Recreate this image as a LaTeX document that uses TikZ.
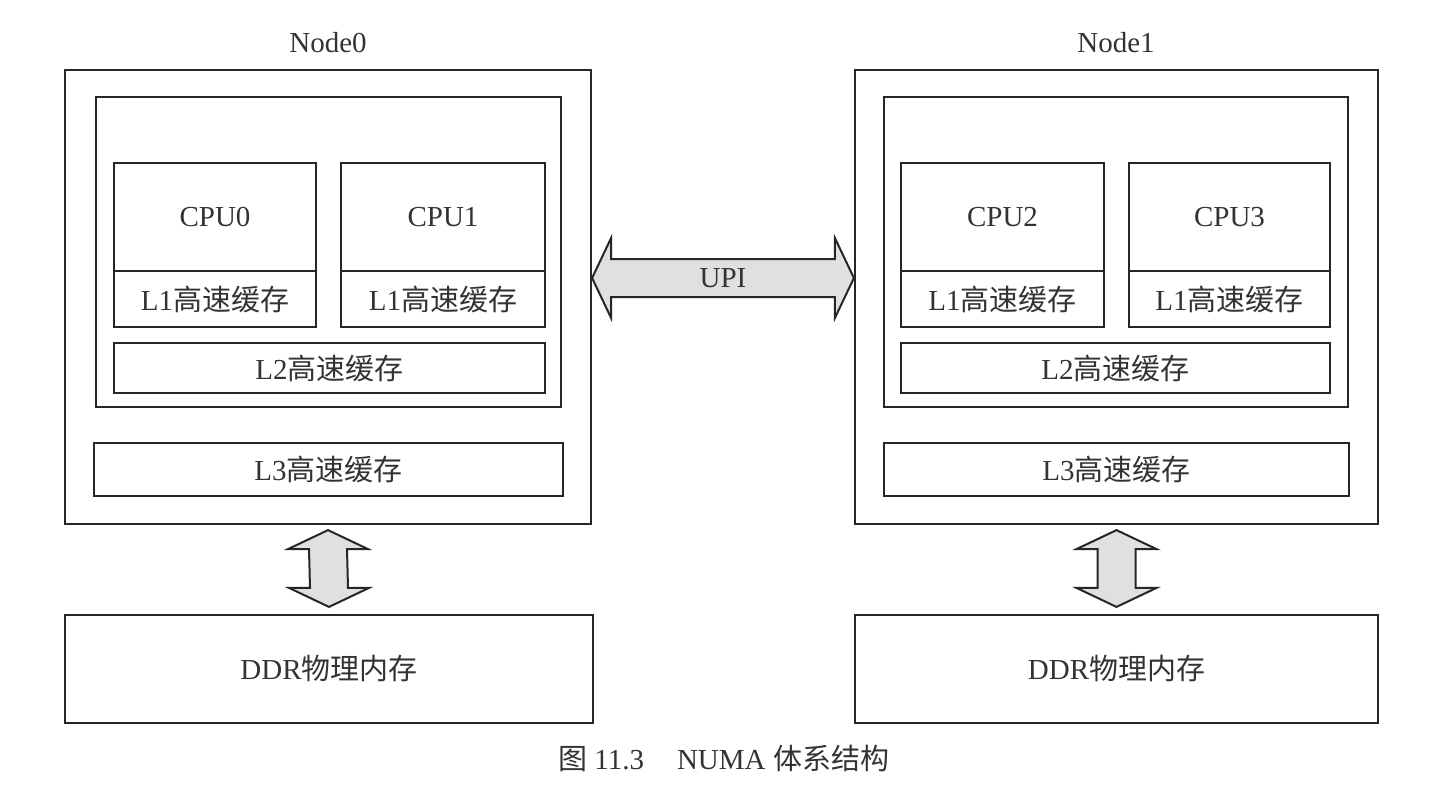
\documentclass[tikz,border=0pt]{standalone}
\usepackage{fontspec}
\setmainfont{Liberation Serif}
\newfontfamily\cjk{Noto Sans CJK SC}
\usepackage{tikz}
\usetikzlibrary{calc}
\tikzset{>=latex}
\tikzset{
  lbl/.style={inner sep=0pt, font=\fontsize{29}{34}\selectfont, text=black!80},
  box/.style={lbl, draw=black!85, line width=2.2pt, rectangle},
  fatarrow/.style={draw=black!85, line width=2pt, fill=black!12, line join=miter},
}

\begin{document}
\begin{tikzpicture}[x=1pt,y=-1pt]
  \useasboundingbox (0,0) rectangle (1454,803);
  % Node0
  \node[lbl] (lab0) at (328,43) {Node0};
  \node[box, minimum width=526pt, minimum height=454pt] (n0) at (328,297) {};
  \node[box, minimum width=465pt, minimum height=310pt] (in0) at (328.5,252) {};
  \node[box, minimum width=202pt, minimum height=108pt] (cpu0) at (215,217) {CPU0};
  \node[box, minimum width=202pt, minimum height=56pt] (l1a) at (215,299) {L1{\cjk 高速缓存}};
  \node[box, minimum width=204pt, minimum height=108pt] (cpu1) at (443,217) {CPU1};
  \node[box, minimum width=204pt, minimum height=56pt] (l1b) at (443,299) {L1{\cjk 高速缓存}};
  \node[box, minimum width=431pt, minimum height=50pt] (l2a) at (329.5,368) {L2{\cjk 高速缓存}};
  \node[box, minimum width=469pt, minimum height=53pt] (l3a) at (328.5,469.5) {L3{\cjk 高速缓存}};
  \node[box, minimum width=528pt, minimum height=108pt] (ddr0) at (329,669) {DDR{\cjk 物理内存}};
  % Node1
  \node[lbl] (lab1) at (1116,43) {Node1};
  \node[box, minimum width=523pt, minimum height=454pt] (n1) at (1116.5,297) {};
  \node[box, minimum width=464pt, minimum height=310pt] (in1) at (1116,252) {};
  \node[box, minimum width=203pt, minimum height=108pt] (cpu2) at (1002.5,217) {CPU2};
  \node[box, minimum width=203pt, minimum height=56pt] (l1c) at (1002.5,299) {L1{\cjk 高速缓存}};
  \node[box, minimum width=201pt, minimum height=108pt] (cpu3) at (1229.5,217) {CPU3};
  \node[box, minimum width=201pt, minimum height=56pt] (l1d) at (1229.5,299) {L1{\cjk 高速缓存}};
  \node[box, minimum width=429pt, minimum height=50pt] (l2b) at (1115.5,368) {L2{\cjk 高速缓存}};
  \node[box, minimum width=465pt, minimum height=53pt] (l3b) at (1116.5,469.5) {L3{\cjk 高速缓存}};
  \node[box, minimum width=523pt, minimum height=108pt] (ddr1) at (1116.5,669) {DDR{\cjk 物理内存}};
  % UPI link
  \coordinate (upiA) at ($(n0.east)+(0,-19)$);
  \coordinate (upiB) at ($(n1.west)+(0,-19)$);
  \draw[fatarrow] (upiA) -- ++(19,-40) -- ++(0,21) -- ($(upiB)+(-19,-19)$) -- ++(0,-21)
    -- (upiB) -- ++(-19,40) -- ++(0,-21) -- ($(upiA)+(19,19)$) -- ++(0,21) -- cycle;
  \path (upiA) -- node[lbl] (upi) {UPI} (upiB);
  % memory links
  \coordinate (m0t) at ($(n0.south)+(0,5)$);
  \coordinate (m0b) at ($(ddr0.north)+(0,-7)$);
  \draw[fatarrow] (m0t) -- ++(40,19) -- ++(-21,0) -- ($(m0b)+(19,-19)$) -- ++(21,0)
    -- (m0b) -- ++(-40,-19) -- ++(21,0) -- ($(m0t)+(-19,19)$) -- ++(-21,0) -- cycle;
  \coordinate (m1t) at ($(n1.south)+(0,5)$);
  \coordinate (m1b) at ($(ddr1.north)+(0,-7)$);
  \draw[fatarrow] (m1t) -- ++(40,19) -- ++(-21,0) -- ($(m1b)+(19,-19)$) -- ++(21,0)
    -- (m1b) -- ++(-40,-19) -- ++(21,0) -- ($(m1t)+(-19,19)$) -- ++(-21,0) -- cycle;
  % caption
  \node[lbl] (cap) at (724,758) {{\cjk 图}\hspace{7pt}11.3\hspace{33pt}NUMA\hspace{8pt}{\cjk 体系结构}};
\end{tikzpicture}
\end{document}
